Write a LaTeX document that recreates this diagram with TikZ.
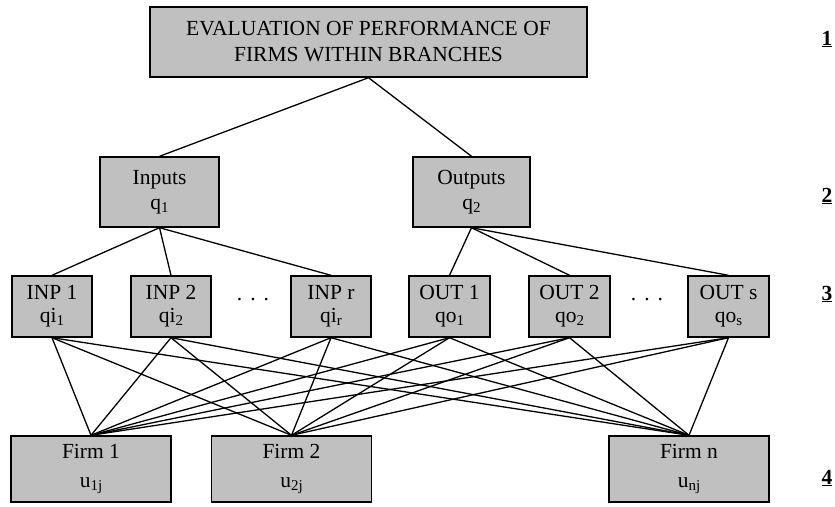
\documentclass[tikz,border=0pt]{standalone}
\usepackage{fontspec}
\setmainfont{Liberation Serif}
\definecolor{boxgray}{RGB}{192,192,192}
\newcommand\mysb[1]{\raisebox{-3pt}{\fontsize{15}{15}\selectfont #1}}
\tikzset{
  box/.style={draw=black, line width=1.4pt, fill=boxgray, inner sep=0pt, align=center},
  topbox/.style={box, minimum width=437pt, minimum height=70pt, font=\fontsize{21.5}{26}\selectfont},
  midbox/.style={box, minimum width=119pt, minimum height=70pt, font=\fontsize{21.5}{25}\selectfont},
  varbox/.style={box, minimum width=80pt, minimum height=61pt, font=\fontsize{21.5}{23}\selectfont},
  firmbox/.style={box, minimum width=160pt, minimum height=66pt, font=\fontsize{21.5}{29}\selectfont},
  edge/.style={draw=black, line width=1.3pt},
  lvl/.style={anchor=base, inner sep=0pt, font=\fontsize{21.5}{25}\selectfont\bfseries},
  dotsn/.style={anchor=base, inner sep=0pt, font=\fontsize{21.5}{25}\selectfont}
}
\begin{document}
\begin{tikzpicture}[x=1pt,y=-1pt]
\useasboundingbox (0,0) rectangle (835,506);
% level 1
\node[topbox] (top) at (368.5,42) {EVALUATION OF PERFORMANCE OF\\FIRMS WITHIN BRANCHES};
% level 2
\node[midbox] (inputs) at (159.5,192) {Inputs\\q\mysb{1}};
\node[midbox, minimum width=117pt] (outputs) at (471.5,192) {Outputs\\q\mysb{2}};
% level 3
\node[varbox] (inp1) at (52,306.5) {INP 1\\qi\mysb{1}};
\node[varbox] (inp2) at (171,306.5) {INP 2\\qi\mysb{2}};
\node[varbox] (inpr) at (331,306.5) {INP r\\qi\mysb{r}};
\node[varbox, minimum width=81pt] (out1) at (449.5,306.5) {OUT 1\\qo\mysb{1}};
\node[varbox, minimum width=81pt] (out2) at (569.5,306.5) {OUT 2\\qo\mysb{2}};
\node[varbox, minimum width=81pt] (outs) at (728.5,306.5) {OUT s\\qo\mysb{s}};
\node[dotsn] (dots1) at (253,300) {.\hspace{8pt}.\hspace{8pt}.};
\node[dotsn] (dots2) at (647,300) {.\hspace{8pt}.\hspace{8pt}.};
% level 4
\node[firmbox] (firm1) at (91,469) {Firm 1\\u\mysb{1j}};
\node[firmbox] (firm2) at (291.5,469) {Firm 2\\u\mysb{2j}};
\node[firmbox] (firmn) at (689,469) {Firm n\\u\mysb{nj}};
% level labels
\node[lvl] (l1) at (827,45) {\underline{1}};
\node[lvl] (l2) at (827,202) {\underline{2}};
\node[lvl] (l3) at (827,300) {\underline{3}};
\node[lvl] (l4) at (827,484) {\underline{4}};
% connectors
\draw[edge] (top.south) -- (inputs.north);
\draw[edge] (top.south) -- (outputs.north);
\foreach \v in {inp1,inp2,inpr} \draw[edge] (inputs.south) -- (\v.north);
\foreach \v in {out1,out2,outs} \draw[edge] (outputs.south) -- (\v.north);
\foreach \v in {inp1,inp2,inpr,out1,out2,outs}
  \foreach \f in {firm1,firm2,firmn}
    \draw[edge] (\v.south) -- (\f.north);
\end{tikzpicture}
\end{document}
